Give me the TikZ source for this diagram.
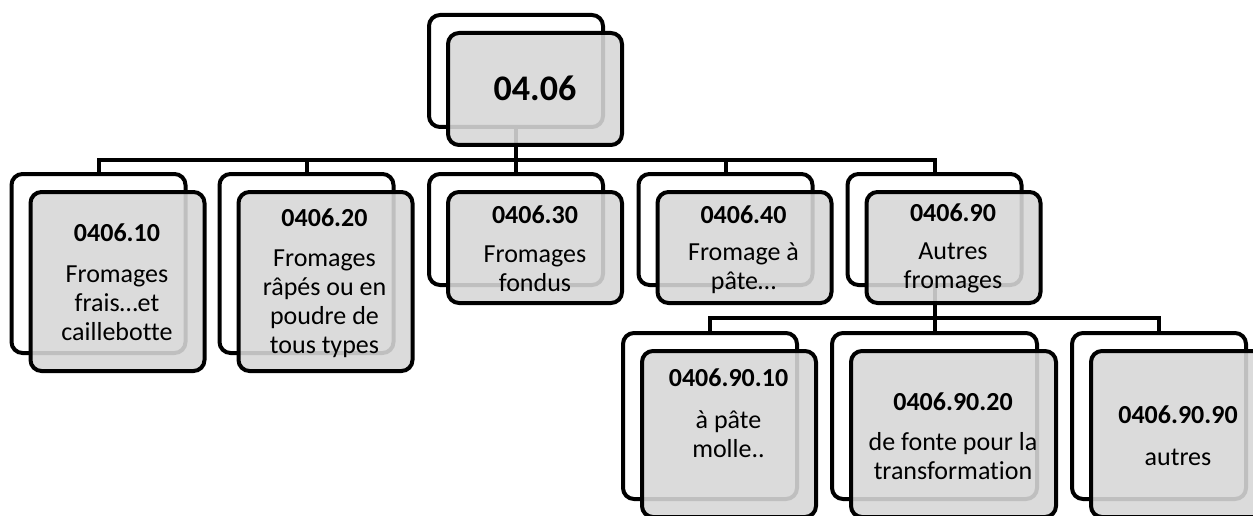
\documentclass[tikz,border=0pt]{standalone}
\usepackage{fontspec}
\setmainfont{Carlito}[Ligatures=NoCommon]
\definecolor{frontgray}{gray}{0.845}
\pgfdeclarelayer{background}
\pgfsetlayers{background,main}
\begin{document}
\begin{tikzpicture}[x=1pt,y=-1pt,
  boxline/.style={line width=4pt, rounded corners=11pt, inner sep=0pt, outer sep=0pt},
  backbox/.style={boxline, draw=black, fill=white},
  frontbox/.style={boxline, draw=black, fill=frontgray, fill opacity=0.89},
  conn/.style={line width=4pt, draw=black},
  titletext/.style={font=\fontsize{26}{29}\selectfont\bfseries, inner sep=0pt},
  bodytext/.style={font=\fontsize{26}{29}\selectfont, align=center, inner sep=0pt},
  toptext/.style={font=\fontsize{36}{40}\selectfont\bfseries, inner sep=0pt}]
\clip (0,0) rectangle (1253,516);
% back boxes
\node[backbox, minimum width=174pt, minimum height=112pt] (b0) at (516,71) {};
\node[backbox, minimum width=174pt, minimum height=179pt] (b1) at (98.5,263.5) {};
\node[backbox, minimum width=174pt, minimum height=179pt] (b2) at (306.5,263.5) {};
\node[backbox, minimum width=174pt, minimum height=111pt] (b3) at (516,229.5) {};
\node[backbox, minimum width=174pt, minimum height=111pt] (b4) at (725.5,229.5) {};
\node[backbox, minimum width=174pt, minimum height=111pt] (b5) at (934.5,229.5) {};
\node[backbox, minimum width=174pt, minimum height=166pt] (b6) at (710,416) {};
\node[backbox, minimum width=205pt, minimum height=166pt] (b7) at (934.5,416) {};
\node[backbox, minimum width=174pt, minimum height=166pt] (b8) at (1159,416) {};
% front boxes
\node[frontbox, minimum width=174pt, minimum height=112pt] (f0) at (535,89) {};
\node[frontbox, minimum width=174pt, minimum height=179pt] (f1) at (117.5,281.5) {};
\node[frontbox, minimum width=174pt, minimum height=179pt] (f2) at (325.5,281.5) {};
\node[frontbox, minimum width=174pt, minimum height=111pt] (f3) at (535,247.5) {};
\node[frontbox, minimum width=174pt, minimum height=111pt] (f4) at (744.5,247.5) {};
\node[frontbox, minimum width=174pt, minimum height=111pt] (f5) at (953.5,247.5) {};
\node[frontbox, minimum width=174pt, minimum height=166pt] (f6) at (729,434) {};
\node[frontbox, minimum width=205pt, minimum height=166pt] (f7) at (953.5,434) {};
\node[frontbox, minimum width=174pt, minimum height=166pt] (f8) at (1178,434) {};
% connectors
\coordinate (bar1) at (0,160);
\coordinate (bar2) at (0,318);
\begin{pgfonlayer}{background}
\fill[white] (0,0) rectangle (1253,516);
\foreach \c in {b1,b2,b3,b4,b5}
  \draw[conn] (b0.south) -- (b0.south |- bar1) -| (\c.north);
\foreach \c in {b6,b7,b8}
  \draw[conn] (b5.south) -- (b5.south |- bar2) -| (\c.north);
\end{pgfonlayer}
% texts
\node[toptext] (t0) at (535,88) {04.06};
\node[titletext] (t1) at (117,233) {0406.10};
\node[bodytext] (d1) at (117,303) {Fromages\\frais…et\\caillebotte};
\node[titletext] (t2) at (324.5,218) {0406.20};
\node[bodytext] (d2) at (324.5,304) {Fromages\\râpés ou en\\poudre de\\tous types};
\node[titletext] (t3) at (535,215) {0406.30};
\node[bodytext] (d3) at (535,268.5) {Fromages\\fondus};
\node[titletext] (t4) at (743.5,215) {0406.40};
\node[bodytext] (d4) at (743.5,268.5) {Fromage à\\pâte…};
\node[titletext] (t5) at (953,213) {0406.90};
\node[bodytext] (d5) at (953,268) {Autres\\fromages};
\node[titletext] (t6) at (728.5,378) {0406.90.10};
\node[bodytext] (d6) at (728.5,434) {à pâte\\molle..};
\node[titletext] (t7) at (953,402) {0406.90.20};
\node[bodytext] (d7) at (953,456.5) {de fonte pour la\\transformation};
\node[titletext] (t8) at (1178,415) {0406.90.90};
\node[bodytext] (d8) at (1178,457) {autres};
\end{tikzpicture}
\end{document}
